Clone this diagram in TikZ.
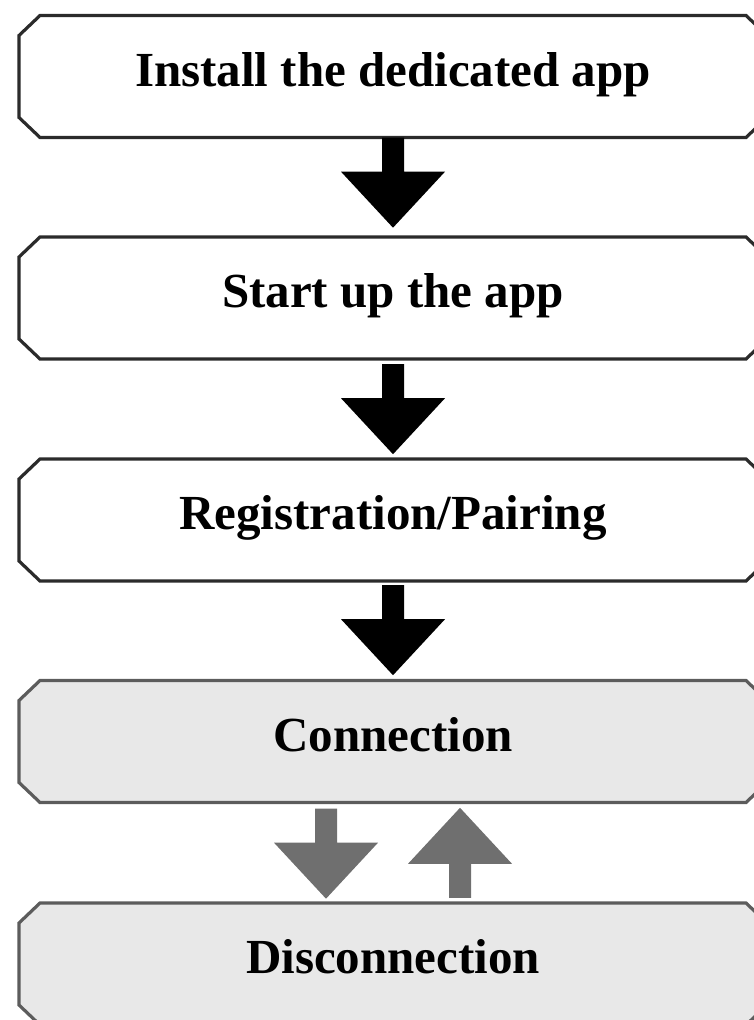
\documentclass[tikz,border=0pt]{standalone}
\usepackage{fontspec}
\setmainfont{Liberation Serif}
\usetikzlibrary{calc}
\definecolor{boxline}{HTML}{2B2B2B}
\definecolor{grayline}{HTML}{5C5C5C}
\definecolor{grayfill}{HTML}{E8E8E8}
\definecolor{grayarrow}{HTML}{6F6F6F}
\begin{document}
\begin{tikzpicture}[x=1pt,y=-1pt,
  whiteframe/.style={draw=boxline, line width=3.2pt, fill=white, line join=miter},
  grayframe/.style={draw=grayline, line width=3.2pt, fill=grayfill, line join=miter},
  steptext/.style={rectangle, inner sep=0pt, minimum width=748pt, minimum height=122pt,
    text height=32pt, text depth=13pt,
    font=\fontsize{49}{58}\selectfont\bfseries},
  pics/octframe/.style={code={\path[#1] (-353,-61) -- (353,-61) -- (374,-41) -- (374,41)
     -- (353,61) -- (-353,61) -- (-374,41) -- (-374,-41) -- cycle;}},
  pics/blockarrow/.style={code={\fill[#1] (-11,0) -- (11,0) -- (11,34) -- (52,34)
     -- (0,90) -- (-52,34) -- (-11,34) -- cycle;}}]
\useasboundingbox (0,0) rectangle (754,1020);
\clip (0,0) rectangle (754,1020);
\pic at (393,76.5) {octframe=whiteframe};
\node[steptext] (b1) at (393,76.5) {Install the dedicated app};
\pic at (393,298) {octframe=whiteframe};
\node[steptext] (b2) at (393,298) {Start up the app};
\pic at (393,520) {octframe=whiteframe};
\node[steptext] (b3) at (393,520) {Registration/Pairing};
\pic at (393,741.5) {octframe=grayframe};
\node[steptext] (b4) at (393,741.5) {Connection};
\pic at (393,964) {octframe=grayframe};
\node[steptext] (b5) at (393,964) {Disconnection};
\pic at ($(b1.south)+(0,0)$) {blockarrow=black};
\pic at ($(b2.south)+(0,5)$) {blockarrow=black};
\pic at ($(b3.south)+(0,4)$) {blockarrow=black};
\pic at ($(b4.south)+(-67,6)$) {blockarrow=grayarrow};
\pic[rotate=180] at ($(b5.north)+(67,-5)$) {blockarrow=grayarrow};
\end{tikzpicture}
\end{document}
